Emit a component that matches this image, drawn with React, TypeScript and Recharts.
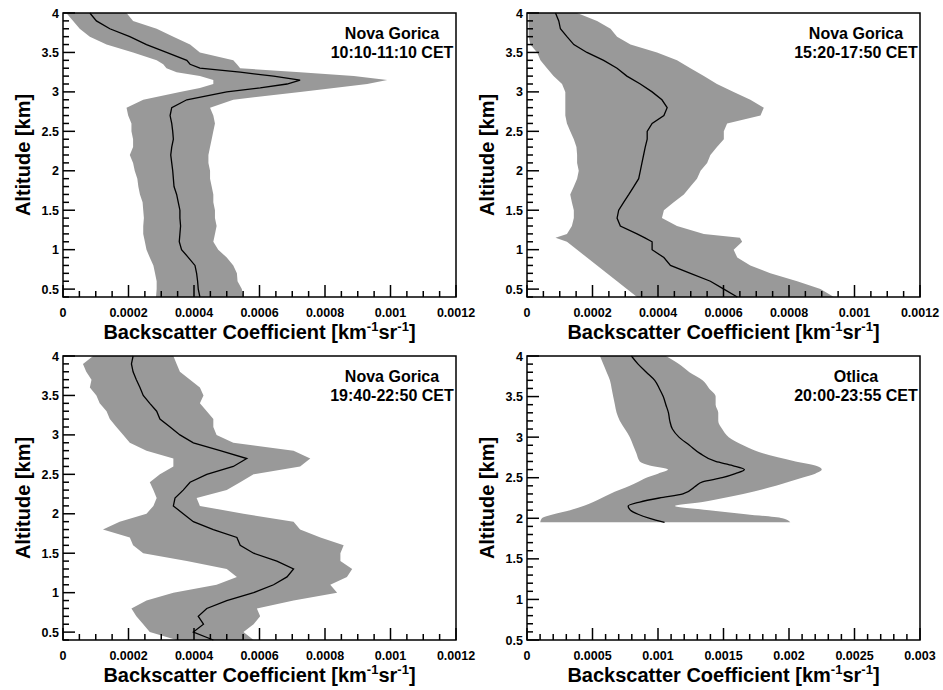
import { ComposedChart, Line, Area, XAxis, YAxis, ReferenceArea } from 'recharts';

// ---- Nova Gorica 10:10-11:10 ----
const alt1 = [0.4, 0.5, 0.6, 0.7, 0.8, 0.9, 1.0, 1.1, 1.2, 1.3, 1.4, 1.5, 1.6, 1.7, 1.8, 1.9, 2.0, 2.1, 2.2, 2.3, 2.4, 2.5, 2.6, 2.7, 2.8, 2.9,
  3.0, 3.05, 3.1, 3.15, 3.2, 3.25, 3.3, 3.35, 3.4, 3.5, 3.6, 3.7, 3.8, 3.9, 4.0];
const mean1 = [4.18e-4, 4.13e-4, 4.11e-4, 4.08e-4, 4.03e-4, 3.83e-4, 3.62e-4, 3.55e-4, 3.57e-4, 3.59e-4, 3.57e-4, 3.57e-4, 3.52e-4, 3.47e-4, 3.39e-4, 3.37e-4,
  3.35e-4, 3.32e-4, 3.29e-4, 3.32e-4, 3.37e-4, 3.35e-4, 3.32e-4, 3.27e-4, 3.32e-4, 3.78e-4,
  5.0e-4, 6.02e-4, 6.84e-4, 7.24e-4, 6.43e-4, 5.41e-4, 4.18e-4, 3.88e-4, 3.78e-4, 3.16e-4, 2.55e-4, 2.04e-4, 1.43e-4, 1.02e-4, 0.82e-4];
const lo1 = [2.84e-4, 2.86e-4, 2.86e-4, 2.81e-4, 2.76e-4, 2.65e-4, 2.55e-4, 2.5e-4, 2.45e-4, 2.45e-4, 2.47e-4, 2.45e-4, 2.43e-4, 2.35e-4, 2.3e-4, 2.27e-4,
  2.19e-4, 2.14e-4, 2.04e-4, 2.14e-4, 2.14e-4, 2.09e-4, 2.09e-4, 1.99e-4, 1.94e-4, 2.45e-4,
  3.57e-4, 4.18e-4, 4.59e-4, 4.59e-4, 4.18e-4, 3.47e-4, 3.16e-4, 3.06e-4, 2.86e-4, 2.14e-4, 1.33e-4, 0.82e-4, 0.51e-4, 0.31e-4, 0.1e-4];
const hi1 = [5.51e-4, 5.46e-4, 5.33e-4, 5.31e-4, 5.2e-4, 5.0e-4, 4.74e-4, 4.59e-4, 4.64e-4, 4.69e-4, 4.64e-4, 4.64e-4, 4.59e-4, 4.59e-4, 4.54e-4, 4.49e-4,
  4.49e-4, 4.44e-4, 4.44e-4, 4.49e-4, 4.54e-4, 4.59e-4, 4.64e-4, 4.59e-4, 4.49e-4, 5.2e-4,
  7.24e-4, 8.27e-4, 9.29e-4, 9.9e-4, 8.88e-4, 7.24e-4, 5.41e-4, 5.31e-4, 5.2e-4, 4.18e-4, 3.88e-4, 3.37e-4, 2.86e-4, 2.14e-4, 1.94e-4];

// ---- Nova Gorica 15:20-17:50 ----
const alt2 = [0.4, 0.5, 0.6, 0.7, 0.8, 0.9, 1.0, 1.1, 1.15, 1.2, 1.3, 1.4, 1.5, 1.6, 1.7, 1.8, 1.9, 2.0, 2.1, 2.2, 2.3, 2.4, 2.5, 2.6, 2.7, 2.8, 2.9,
  3.0, 3.1, 3.2, 3.3, 3.4, 3.5, 3.6, 3.7, 3.8, 3.9, 4.0];
const mean2 = [6.42e-4, 6.01e-4, 5.6e-4, 4.99e-4, 4.38e-4, 4.18e-4, 3.82e-4, 3.82e-4, 3.6e-4, 3.36e-4, 2.85e-4, 2.75e-4, 2.8e-4, 2.95e-4, 3.11e-4, 3.26e-4, 3.41e-4,
  3.46e-4, 3.51e-4, 3.56e-4, 3.61e-4, 3.67e-4, 3.67e-4, 3.82e-4, 4.18e-4, 4.28e-4, 4.12e-4,
  3.82e-4, 3.46e-4, 3.05e-4, 2.75e-4, 2.34e-4, 1.83e-4, 1.43e-4, 1.22e-4, 1.02e-4, 0.97e-4, 0.87e-4];
const lo2 = [3.36e-4, 3.05e-4, 2.75e-4, 2.44e-4, 2.14e-4, 1.83e-4, 1.53e-4, 1.22e-4, 0.87e-4, 1.22e-4, 1.37e-4, 1.43e-4, 1.43e-4, 1.37e-4, 1.32e-4, 1.43e-4, 1.53e-4,
  1.58e-4, 1.53e-4, 1.53e-4, 1.51e-4, 1.43e-4, 1.32e-4, 1.22e-4, 1.17e-4, 1.17e-4, 1.17e-4,
  1.17e-4, 1.07e-4, 0.81e-4, 0.61e-4, 0.41e-4, 0.31e-4, 0.1e-4, 0.05e-4, 0.05e-4, 0.05e-4, 0.05e-4];
const hi2 = [9.37e-4, 8.96e-4, 8.25e-4, 7.43e-4, 6.82e-4, 6.42e-4, 6.31e-4, 6.57e-4, 6.5e-4, 5.4e-4, 4.58e-4, 4.12e-4, 4.18e-4, 4.48e-4, 4.79e-4, 4.99e-4, 5.19e-4,
  5.3e-4, 5.5e-4, 5.6e-4, 5.8e-4, 6.01e-4, 6.01e-4, 6.11e-4, 7.13e-4, 7.23e-4, 6.82e-4,
  6.31e-4, 5.8e-4, 5.4e-4, 4.99e-4, 4.58e-4, 3.97e-4, 3.16e-4, 2.75e-4, 2.55e-4, 2.14e-4, 1.53e-4];

// ---- Nova Gorica 19:40-22:50 ----
const alt3 = [0.4, 0.5, 0.6, 0.7, 0.8, 0.9, 1.0, 1.1, 1.2, 1.3, 1.4, 1.5, 1.6, 1.7, 1.8, 1.9, 2.0, 2.1, 2.2, 2.3, 2.4, 2.5, 2.6, 2.7, 2.8, 2.9,
  3.0, 3.1, 3.2, 3.3, 3.4, 3.5, 3.6, 3.7, 3.8, 3.9, 4.0];
const mean3 = [4.59e-4, 3.98e-4, 4.29e-4, 4.13e-4, 4.39e-4, 5.0e-4, 5.82e-4, 6.43e-4, 6.84e-4, 7.04e-4, 6.53e-4, 5.82e-4, 5.41e-4, 5.31e-4, 4.59e-4, 3.98e-4,
  3.67e-4, 3.37e-4, 3.42e-4, 3.67e-4, 3.88e-4, 4.39e-4, 5.2e-4, 5.61e-4, 4.8e-4, 3.98e-4,
  3.57e-4, 3.27e-4, 2.96e-4, 2.86e-4, 2.65e-4, 2.45e-4, 2.35e-4, 2.24e-4, 2.14e-4, 2.09e-4, 2.14e-4];
const lo3 = [3.47e-4, 2.65e-4, 2.45e-4, 2.24e-4, 2.09e-4, 2.55e-4, 3.37e-4, 4.69e-4, 5.31e-4, 5.0e-4, 3.78e-4, 2.45e-4, 2.14e-4, 2.04e-4, 1.22e-4, 1.73e-4,
  2.55e-4, 2.76e-4, 2.86e-4, 2.76e-4, 2.65e-4, 2.96e-4, 3.37e-4, 3.37e-4, 2.55e-4, 2.04e-4,
  1.84e-4, 1.63e-4, 1.43e-4, 1.33e-4, 1.12e-4, 1.02e-4, 0.82e-4, 0.87e-4, 0.71e-4, 0.61e-4, 0.92e-4];
const hi3 = [5.82e-4, 5.51e-4, 5.82e-4, 6.02e-4, 5.92e-4, 7.04e-4, 8.37e-4, 8.16e-4, 8.67e-4, 8.83e-4, 8.47e-4, 8.47e-4, 8.57e-4, 7.86e-4, 7.24e-4, 7.04e-4,
  5.51e-4, 4.18e-4, 4.08e-4, 5.0e-4, 5.41e-4, 5.82e-4, 7.24e-4, 7.55e-4, 7.04e-4, 5.2e-4,
  4.69e-4, 4.59e-4, 4.59e-4, 4.39e-4, 4.18e-4, 4.29e-4, 4.18e-4, 3.88e-4, 3.57e-4, 3.47e-4, 3.37e-4];

// ---- Otlica 20:00-23:55 ----
const alt4 = [1.95, 2.0, 2.05, 2.1, 2.15, 2.2, 2.25, 2.3, 2.4, 2.45, 2.5, 2.55, 2.6, 2.65, 2.7, 2.8, 2.9, 3.0, 3.1, 3.2, 3.3, 3.4, 3.5, 3.6, 3.7, 3.8, 3.9, 4.0];
const mean4 = [1.05e-3, 0.937e-3, 0.848e-3, 0.79e-3, 0.772e-3, 0.861e-3, 1.01e-3, 1.19e-3, 1.29e-3, 1.34e-3, 1.49e-3, 1.59e-3, 1.66e-3, 1.57e-3, 1.44e-3,
  1.32e-3, 1.24e-3, 1.16e-3, 1.11e-3, 1.09e-3, 1.08e-3, 1.06e-3, 1.04e-3, 1.01e-3, 0.975e-3, 0.911e-3, 0.848e-3, 0.797e-3];
const lo4 = [0.101e-3, 0.114e-3, 0.203e-3, 0.329e-3, 0.43e-3, 0.506e-3, 0.57e-3, 0.633e-3, 0.785e-3, 0.85e-3, 0.911e-3, 1.0e-3, 1.076e-3, 0.937e-3, 0.861e-3,
  0.835e-3, 0.81e-3, 0.785e-3, 0.747e-3, 0.709e-3, 0.684e-3, 0.671e-3, 0.658e-3, 0.646e-3, 0.633e-3, 0.608e-3, 0.582e-3, 0.557e-3];
const hi4 = [2.01e-3, 1.95e-3, 1.67e-3, 1.39e-3, 1.13e-3, 1.34e-3, 1.5e-3, 1.65e-3, 1.9e-3, 2.0e-3, 2.1e-3, 2.2e-3, 2.25e-3, 2.2e-3, 2.05e-3,
  1.8e-3, 1.65e-3, 1.54e-3, 1.49e-3, 1.46e-3, 1.46e-3, 1.44e-3, 1.44e-3, 1.39e-3, 1.34e-3, 1.24e-3, 1.16e-3, 1.06e-3];

const xMajor1 = [0, 0.0002, 0.0004, 0.0006, 0.0008, 0.001, 0.0012];
const xMajor4 = [0, 0.0005, 0.001, 0.0015, 0.002, 0.0025, 0.003];
const yMajor = [0.5, 1, 1.5, 2, 2.5, 3, 3.5, 4];

const FONT = '"Liberation Sans", Arial, Helvetica, sans-serif';
const GRAY = '#999999';

function buildRows(alt: number[], mean: number[], lo: number[], hi: number[]) {
  return alt.map((a, i) => ({ alt: a, mean: mean[i], band: [lo[i], hi[i]] }));
}

function steps(from: number, to: number, step: number) {
  const out: number[] = [];
  const n = Math.round((to - from) / step);
  for (let i = 0; i <= n; i++) out.push(Number((from + i * step).toFixed(7)));
  return out;
}

const isMajor = (v: number, majors: number[]) => majors.some((m) => Math.abs(m - v) < 1e-9);

function XTick(props: any) {
  const { x, y, payload, majors } = props;
  const major = isMajor(payload.value, majors);
  return (
    <g>
      <line x1={x} x2={x} y1={y} y2={y - (major ? 12 : 6)} stroke="#000" strokeWidth={1.5} />
      {major && (
        <text x={x} y={y + 20} textAnchor="middle" fontSize={12.5} fontWeight="bold" fontFamily={FONT} fill="#000">
          {String(payload.value)}
        </text>
      )}
    </g>
  );
}

function YTick(props: any) {
  const { x, y, payload } = props;
  const major = isMajor(payload.value, yMajor);
  return (
    <g>
      <line x1={x} x2={x + (major ? 12 : 6)} y1={y} y2={y} stroke="#000" strokeWidth={1.5} />
      {major && (
        <text x={x - 4} y={y + 4.5} textAnchor="end" fontSize={12.5} fontWeight="bold" fontFamily={FONT} fill="#000">
          {String(payload.value)}
        </text>
      )}
    </g>
  );
}

function XTitle(props: any) {
  const vb = props.viewBox;
  return (
    <text x={vb.x + vb.width / 2} y={vb.y + 42} textAnchor="middle" fontSize={20} fontWeight="bold" fontFamily={FONT} fill="#000">
      Backscatter Coefficient [km
      <tspan dy={-8} fontSize={13}>-1</tspan>
      <tspan dy={8} fontSize={20}>sr</tspan>
      <tspan dy={-8} fontSize={13}>-1</tspan>
      <tspan dy={8} fontSize={20}>]</tspan>
    </text>
  );
}

function YTitle(props: any) {
  const vb = props.viewBox;
  const cx = vb.x + vb.width - 33;
  const cy = vb.y + vb.height / 2;
  return (
    <text x={cx} y={cy} transform={`rotate(-90 ${cx} ${cy})`} textAnchor="middle" fontSize={20} fontWeight="bold" fontFamily={FONT} fill="#000">
      Altitude [km]
    </text>
  );
}

interface PanelProps {
  left: number;
  top: number;
  rows: { alt: number; mean: number; band: number[] }[];
  xMax: number;
  xMajor: number[];
  xMinorStep: number;
  yMin: number;
  site: string;
  time: string;
  smooth?: boolean;
}

function Panel({ left, top, rows, xMax, xMajor, xMinorStep, yMin, site, time, smooth }: PanelProps) {
  const xTicks = steps(0, xMax, xMinorStep);
  const yTicks = steps(yMin, 4, 0.1);
  const curve = smooth ? 'monotone' : 'linear';
  return (
    <div style={{ position: 'absolute', left, top }}>
      <ComposedChart
        width={500}
        height={345}
        layout="vertical"
        data={rows}
        margin={{ top: 13, right: 44, left: 0, bottom: 0 }}
      >
        <Area
          type={curve}
          dataKey="band"
          stroke="none"
          fill={GRAY}
          fillOpacity={1}
          isAnimationActive={false}
        />
        <Line type={curve} dataKey="mean" stroke="#000" strokeWidth={1.3} dot={false} isAnimationActive={false} />
        <ReferenceArea
          x1={0}
          x2={xMax}
          y1={yMin}
          y2={4}
          fill="none"
          stroke="#000"
          strokeWidth={1.5}
          label={(lp: any) => {
            const vb = lp.viewBox;
            const cx = vb.x + vb.width - 64;
            return (
              <g fontFamily={FONT} fontWeight="bold" fontSize={16} fill="#000">
                <text x={cx} y={vb.y + 26} textAnchor="middle">{site}</text>
                <text x={cx} y={vb.y + 45} textAnchor="middle">{time}</text>
              </g>
            );
          }}
        />
        <XAxis
          type="number"
          dataKey="mean"
          domain={[0, xMax]}
          ticks={xTicks}
          interval={0}
          height={48}
          tickSize={0}
          tickMargin={0}
          tickLine={false}
          axisLine={false}
          tick={(p: any) => <XTick {...p} majors={xMajor} />}
          label={{ content: (lp: any) => <XTitle {...lp} /> }}
        />
        <YAxis
          type="number"
          dataKey="alt"
          domain={[yMin, 4]}
          reversed
          ticks={yTicks}
          interval={0}
          width={63}
          tickSize={0}
          tickMargin={0}
          tickLine={false}
          axisLine={false}
          tick={(p: any) => <YTick {...p} />}
          label={{ content: (lp: any) => <YTitle {...lp} /> }}
        />
      </ComposedChart>
    </div>
  );
}

export default function App() {
  return (
    <div style={{ position: 'absolute', left: 0, top: 0, width: 943, height: 690, background: '#fff' }}>
      <Panel left={0} top={0} rows={buildRows(alt1, mean1, lo1, hi1)} xMax={0.0012} xMajor={xMajor1} xMinorStep={0.00005}
        yMin={0.4} site="Nova Gorica" time="10:10-11:10 CET" />
      <Panel left={464} top={0} rows={buildRows(alt2, mean2, lo2, hi2)} xMax={0.0012} xMajor={xMajor1} xMinorStep={0.00005}
        yMin={0.4} site="Nova Gorica" time="15:20-17:50 CET" />
      <Panel left={0} top={343} rows={buildRows(alt3, mean3, lo3, hi3)} xMax={0.0012} xMajor={xMajor1} xMinorStep={0.00005}
        yMin={0.4} site="Nova Gorica" time="19:40-22:50 CET" />
      <Panel left={464} top={343} rows={buildRows(alt4, mean4, lo4, hi4)} xMax={0.003} xMajor={xMajor4} xMinorStep={0.0001}
        yMin={0.5} site="Otlica" time="20:00-23:55 CET" smooth />
    </div>
  );
}
